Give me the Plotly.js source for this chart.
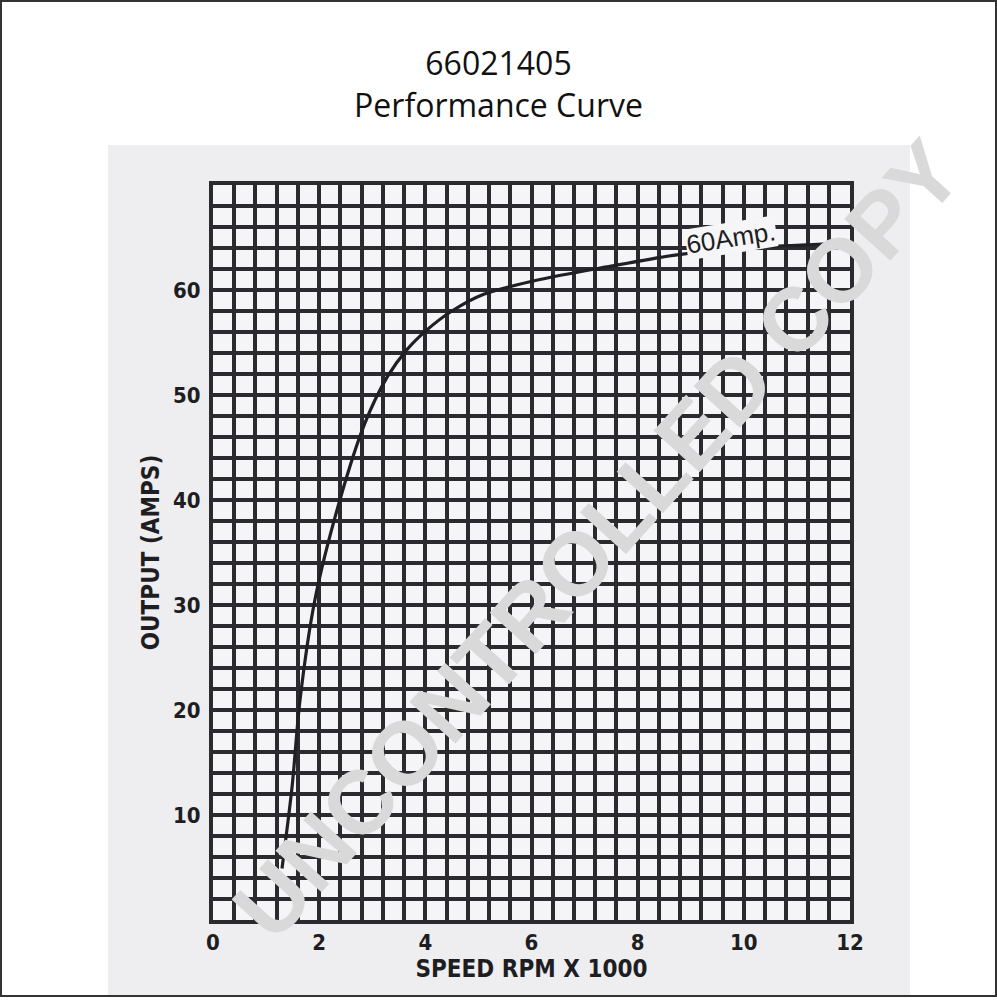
<!DOCTYPE html>
<html>
<head>
<meta charset="utf-8">
<script src="https://cdn.plot.ly/plotly-3.0.1.min.js"></script>
<style>html,body{margin:0;padding:0;background:#fff;}#chart{width:997px;height:1000px;}</style>
</head>
<body>
<div id="chart"></div>
<script>
// Data
var speed = [1.30, 1.49, 1.64, 1.92, 2.39, 2.86, 3.28, 3.65, 4.03, 4.50, 5.10, 6.16, 7.42, 8.67, 9.93, 11.19, 11.60];
var amps  = [4.9, 12.7, 21.0, 30.5, 40.0, 47.3, 51.7, 54.3, 56.2, 58.0, 59.6, 61.0, 62.2, 63.3, 64.0, 64.3, 64.4];
var xTicks = [0, 2, 4, 6, 8, 10, 12];
var xTickLabels = ['0', '2', '4', '6', '8', '10', '12'];
var yTicks = [10, 20, 30, 40, 50, 60];
var yTickLabels = ['10', '20', '30', '40', '50', '60'];
var curveLabel = '60Amp.';
var curveLabelPos = [9.75, 65.0];
var titleLines = ['66021405', 'Performance Curve'];
var xTitle = 'SPEED RPM X 1000';
var yTitle = 'OUTPUT (AMPS)';
var watermark = 'UNCONTROLLED COPY';

var gridColor = '#2a2a2f';
var tickFont = {family: 'Liberation Sans Narrow, DejaVu Sans Condensed, sans-serif', size: 22, color: '#1e1e22', weight: 'bold'};
var axTitleFont = {family: 'DejaVu Sans Condensed, DejaVu Sans, sans-serif', size: 24, color: '#1e1e22', weight: 'bold'};

// plot area pixel geometry helpers (for paper-referenced decorations)
var L = 213, R = 850, T = 185, B = 920;
function px(p) { return (p - L) / (R - L); }
function py(p) { return (B - p) / (B - T); }

var trace = {
  x: speed, y: amps, type: 'scatter', mode: 'lines',
  line: {color: '#1f1f24', width: 3.2, shape: 'spline', smoothing: 0.8},
  hoverinfo: 'skip', showlegend: false
};

var layout = {
  width: 997, height: 1000,
  margin: {l: L, r: 997 - R, t: T, b: 1000 - B},
  paper_bgcolor: '#ffffff',
  plot_bgcolor: '#f4f3f6',
  showlegend: false,
  title: {
    text: titleLines.join('<br>'),
    font: {family: 'Open Sans, Noto Sans, sans-serif', size: 32, color: '#111'},
    x: 0.5, xanchor: 'center', y: 0.925, yanchor: 'top', yref: 'container'
  },
  xaxis: {
    range: [0, 12], fixedrange: true,
    tickmode: 'array', tickvals: xTicks, ticktext: xTickLabels,
    ticks: '', ticklabelstandoff: 0,
    tickfont: tickFont,
    showgrid: true, gridcolor: gridColor, gridwidth: 4,
    minor: {tickmode: 'linear', tick0: 0, dtick: 0.4, showgrid: true, gridcolor: gridColor, gridwidth: 4, ticks: ''},
    showline: true, mirror: true, linecolor: gridColor, linewidth: 4,
    zeroline: false,
    title: {text: xTitle, font: axTitleFont, standoff: 6}
  },
  yaxis: {
    range: [0, 70], fixedrange: true,
    tickmode: 'array', tickvals: yTicks, ticktext: yTickLabels,
    ticks: '', ticklabelstandoff: 4,
    tickfont: tickFont,
    showgrid: true, gridcolor: gridColor, gridwidth: 4,
    minor: {tickmode: 'linear', tick0: 0, dtick: 2, showgrid: true, gridcolor: gridColor, gridwidth: 4, ticks: ''},
    showline: true, mirror: true, linecolor: gridColor, linewidth: 4,
    zeroline: false,
    title: {text: yTitle, font: axTitleFont, standoff: 8}
  },
  shapes: [
    // scanned page background
    {type: 'rect', xref: 'paper', yref: 'paper', layer: 'below',
     x0: px(108), x1: px(910), y0: py(997), y1: py(145),
     fillcolor: '#eeedf0', line: {width: 0}},
    // plot area paper
    {type: 'rect', xref: 'paper', yref: 'paper', layer: 'below',
     x0: 0, x1: 1, y0: 0, y1: 1,
     fillcolor: '#f5f4f7', line: {width: 0}},
    // outer frame
    {type: 'rect', xref: 'paper', yref: 'paper', layer: 'above',
     x0: px(1), x1: px(996), y0: py(996), y1: py(1),
     fillcolor: 'rgba(0,0,0,0)', line: {color: '#333', width: 2}}
  ],
  annotations: [
    {x: curveLabelPos[0], y: curveLabelPos[1], xref: 'x', yref: 'y',
     text: curveLabel, showarrow: false, textangle: -9,
     font: {family: 'Liberation Sans, Arial, sans-serif', size: 26, color: '#1e1e22'},
     bgcolor: '#f6f5f8', borderpad: 0},
    {x: px(597), y: py(540), xref: 'paper', yref: 'paper',
     xanchor: 'center', yanchor: 'middle',
     text: watermark, showarrow: false, textangle: -48,
     font: {family: 'Liberation Sans, Arial, sans-serif', size: 90, color: '#d9d9d9', weight: 'bold'}}
  ]
};

Plotly.newPlot('chart', [trace], layout, {displayModeBar: false, staticPlot: true});
</script>
</body>
</html>
